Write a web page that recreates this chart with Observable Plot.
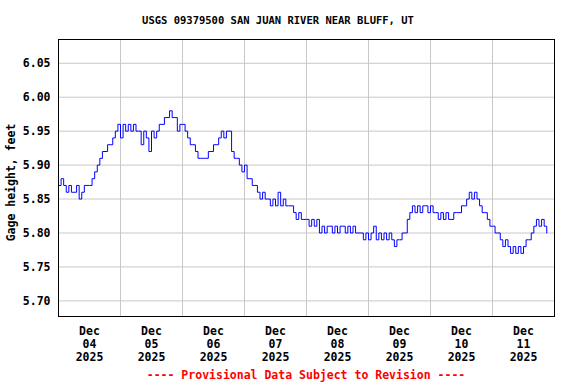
<!DOCTYPE html>
<html>
<head>
<meta charset="utf-8">
<script src="https://cdn.jsdelivr.net/npm/d3@7"></script>
<script src="https://cdn.jsdelivr.net/npm/@observablehq/plot@0.6"></script>
<style>
  html, body { margin: 0; padding: 0; background: #fff; }
</style>
</head>
<body>
<div id="chart"></div>
<script>
// Title / labels
const title = "USGS 09379500 SAN JUAN RIVER NEAR BLUFF, UT";
const yLabel = "Gage height, feet";
const caption = "---- Provisional Data Subject to Revision ----";

// Hourly readings starting Dec 04 2025 00:00 (gage height, feet)
const startTime = "2025-12-04T00:00:00Z";
const heights = [
  5.87,5.88,5.87,5.86,5.87,5.86,5.86,5.87,5.85,5.86,5.87,5.87,5.87,5.88,5.89,5.90,5.91,5.92,5.92,5.93,5.93,5.94,5.95,5.96,
  5.94,5.96,5.95,5.96,5.95,5.96,5.95,5.95,5.93,5.95,5.94,5.92,5.95,5.94,5.95,5.96,5.96,5.97,5.97,5.98,5.97,5.97,5.95,5.96,
  5.96,5.95,5.94,5.93,5.93,5.92,5.91,5.91,5.91,5.91,5.92,5.92,5.93,5.93,5.94,5.95,5.94,5.95,5.95,5.92,5.91,5.91,5.90,5.89,
  5.90,5.88,5.88,5.87,5.87,5.86,5.85,5.86,5.85,5.85,5.84,5.85,5.84,5.86,5.84,5.85,5.84,5.84,5.84,5.83,5.82,5.83,5.82,5.82,
  5.82,5.81,5.82,5.81,5.82,5.80,5.81,5.80,5.81,5.81,5.80,5.81,5.80,5.81,5.81,5.80,5.81,5.80,5.81,5.80,5.80,5.80,5.79,5.80,
  5.79,5.80,5.81,5.79,5.80,5.79,5.80,5.79,5.80,5.79,5.78,5.79,5.79,5.80,5.80,5.82,5.83,5.84,5.83,5.84,5.83,5.84,5.84,5.83,
  5.84,5.83,5.83,5.82,5.83,5.82,5.83,5.82,5.82,5.83,5.83,5.83,5.84,5.84,5.85,5.86,5.85,5.86,5.85,5.84,5.83,5.83,5.82,5.81,
  5.81,5.80,5.80,5.79,5.78,5.79,5.78,5.77,5.78,5.77,5.78,5.77,5.78,5.79,5.79,5.80,5.81,5.82,5.81,5.82,5.81,5.80
];

// Axis settings
const xDomain = ["2025-12-04T00:00:00Z", "2025-12-12T00:00:00Z"];
const yDomain = [5.677, 6.085];
const yTicks = [5.70, 5.75, 5.80, 5.85, 5.90, 5.95, 6.00, 6.05];
const dayLabels = ["2025-12-04","2025-12-05","2025-12-06","2025-12-07","2025-12-08","2025-12-09","2025-12-10","2025-12-11"];

const t0 = new Date(startTime).getTime();
const data = heights.map((v, i) => ({ time: new Date(t0 + i * 3600e3), value: v }));
const midnights = dayLabels.map(d => new Date(d + "T00:00:00Z")).concat([new Date(xDomain[1])]);
const noons = dayLabels.map(d => new Date(d + "T12:00:00Z"));
const fmtLabel = d3.utcFormat("%b\n%d\n%Y");

const plot = Plot.plot({
  width: 576,
  height: 384,
  marginLeft: 58,
  marginRight: 22,
  marginTop: 39,
  marginBottom: 68,
  style: { fontFamily: "'DejaVu Sans Mono', monospace", fontSize: "11.5px", fontWeight: "bold", background: "#fff", color: "#000" },
  x: { type: "utc", domain: xDomain.map(d => new Date(d)) },
  y: { domain: yDomain },
  marks: [
    Plot.gridX(midnights, { stroke: "#c8c8c8", strokeOpacity: 1, strokeWidth: 1 }),
    Plot.gridY(yTicks, { stroke: "#c8c8c8", strokeOpacity: 1, strokeWidth: 1 }),
    Plot.line(data, { x: "time", y: "value", stroke: "#0000ff", strokeWidth: 1, curve: "step-after" }),
    Plot.axisY(yTicks, { tickSize: 0, tickPadding: 8, tickFormat: d3.format(".2f"), label: null, fill: "#000" }),
    Plot.axisX(noons, { tickSize: 0, tickPadding: 10, tickFormat: fmtLabel, label: null, lineHeight: 1.1, fill: "#000" }),
    Plot.frame({ stroke: "#000", strokeWidth: 1 })
  ]
});

document.getElementById("chart").appendChild(plot);

const svg = d3.select(plot);
svg.append("text")
  .attr("x", 278).attr("y", 23.5)
  .attr("text-anchor", "middle")
  .attr("font-family", "'DejaVu Sans Mono', monospace")
  .attr("font-weight", "bold").attr("font-size", "10.5px")
  .attr("fill", "#000")
  .text(title);
svg.append("text")
  .attr("transform", "translate(15,182.5) rotate(-90)")
  .attr("text-anchor", "middle")
  .attr("font-family", "'DejaVu Sans Mono', monospace")
  .attr("font-weight", "bold").attr("font-size", "11.5px")
  .attr("fill", "#000")
  .text(yLabel);
svg.append("text")
  .attr("x", 306).attr("y", 378.5)
  .attr("text-anchor", "middle")
  .attr("font-family", "'DejaVu Sans Mono', monospace")
  .attr("font-weight", "bold").attr("font-size", "11.5px")
  .attr("fill", "#ff0000")
  .text(caption);
</script>
</body>
</html>
